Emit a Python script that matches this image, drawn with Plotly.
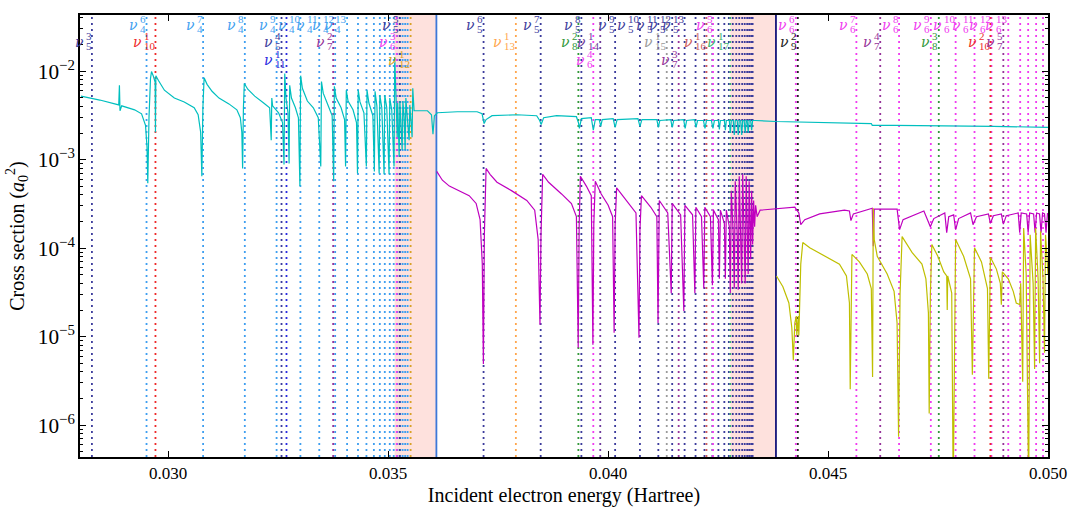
import plotly.graph_objects as go

# ---------------------------------------------------------------------------
# Cross sections (energy in Hartree, cross section in a0^2)
# ---------------------------------------------------------------------------
cyan_points = [
    (0.028023, 5.23e-3), (0.028451, 4.72e-3), (0.028880, 4.16e-3), (0.028896, 6.92e-3),
    (0.028909, 3.57e-3), (0.028948, 4.06e-3), (0.029241, 3.66e-3), (0.029399, 3.30e-3),
    (0.029489, 2.44e-3), (0.029523, 1.39e-3), (0.029541, 5.43e-4), (0.029568, 2.98e-3),
    (0.029602, 8.26e-3), (0.029625, 9.90e-3), (0.029670, 8.70e-3), (0.029708, 7.46e-3),
    (0.029715, 2.04e-3), (0.029724, 8.90e-3), (0.029783, 7.85e-3), (0.029918, 6.10e-3),
    (0.030144, 4.97e-3), (0.030369, 4.49e-3), (0.030595, 3.86e-3), (0.030685, 3.22e-3),
    (0.030742, 2.04e-3), (0.030769, 6.49e-4), (0.030793, 3.86e-3), (0.030821, 8.45e-3),
    (0.030888, 7.10e-3), (0.031001, 5.93e-3), (0.031159, 4.97e-3), (0.031385, 4.27e-3),
    (0.031565, 3.66e-3), (0.031644, 2.98e-3), (0.031678, 2.04e-3), (0.031696, 7.96e-4),
    (0.031714, 3.86e-3), (0.031734, 7.27e-3), (0.031813, 6.25e-3), (0.031971, 5.23e-3),
    (0.032174, 4.37e-3), (0.032310, 3.86e-3), (0.032346, 1.66e-3), (0.032359, 4.97e-3),
    (0.032377, 4.06e-3), (0.032513, 3.39e-3), (0.032603, 2.63e-3), (0.032637, 8.80e-4),
    (0.032653, 9.40e-3), (0.032682, 4.97e-3), (0.032727, 3.39e-3), (0.032752, 9.03e-4),
    (0.032766, 6.92e-3), (0.032806, 4.97e-3), (0.032896, 3.86e-3), (0.032964, 2.98e-3),
    (0.032998, 5.03e-4), (0.033014, 8.90e-3), (0.033054, 6.41e-3), (0.033167, 4.60e-3),
    (0.033303, 3.86e-3), (0.033415, 2.98e-3), (0.033472, 8.37e-4), (0.033488, 7.65e-3),
    (0.033528, 5.64e-3), (0.033641, 4.06e-3), (0.033731, 3.14e-3), (0.033765, 5.71e-4),
    (0.033781, 6.74e-3), (0.033822, 4.97e-3), (0.033934, 3.86e-3), (0.034013, 2.84e-3),
    (0.034036, 8.37e-4), (0.034052, 6.10e-3), (0.034092, 4.60e-3), (0.034205, 3.66e-3),
    (0.034284, 2.63e-3), (0.034307, 7.00e-4), (0.034323, 6.10e-3), (0.034363, 4.49e-3),
    (0.034453, 3.39e-3), (0.034508, 8.37e-4), (0.034523, 6.10e-3), (0.034566, 4.37e-3),
    (0.034656, 3.14e-3), (0.034690, 7.37e-4), (0.034706, 5.93e-3), (0.034747, 4.06e-3),
    (0.034799, 7.00e-4), (0.034814, 5.37e-3), (0.034859, 3.86e-3), (0.034911, 6.83e-4),
    (0.034927, 5.37e-3), (0.034972, 3.86e-3), (0.035024, 6.83e-4), (0.035040, 4.97e-3),
    (0.035085, 3.66e-3), (0.035137, 8.37e-4), (0.035153, 1.45e-2), (0.035187, 4.37e-3),
    (0.035209, 1.79e-3), (0.035220, 4.37e-3), (0.035254, 1.08e-3), (0.035270, 4.60e-3),
    (0.035300, 2.63e-3), (0.035322, 1.29e-3), (0.035338, 4.60e-3), (0.035367, 2.98e-3),
    (0.035390, 1.29e-3), (0.035406, 4.97e-3), (0.035435, 3.14e-3), (0.035480, 1.66e-3),
    (0.035496, 4.16e-3), (0.035525, 2.63e-3), (0.035548, 1.79e-3), (0.035563, 6.41e-3),
    (0.035593, 3.57e-3), (0.035672, 3.57e-3), (0.035897, 3.57e-3), (0.035988, 3.22e-3),
    (0.036022, 1.94e-3), (0.036055, 3.14e-3), (0.036123, 3.39e-3), (0.036574, 3.48e-3),
    (0.037026, 3.48e-3), (0.037138, 3.30e-3), (0.037184, 2.56e-3), (0.037229, 2.84e-3),
    (0.037364, 3.14e-3), (0.037928, 3.22e-3), (0.038379, 3.14e-3), (0.038447, 2.77e-3),
    (0.038481, 2.50e-3), (0.038537, 2.98e-3), (0.038831, 3.14e-3), (0.039282, 3.06e-3),
    (0.039327, 2.63e-3), (0.039350, 2.26e-3), (0.039395, 2.91e-3), (0.039620, 2.98e-3),
    (0.039666, 2.15e-3), (0.039711, 2.84e-3), (0.039801, 2.84e-3), (0.039835, 2.38e-3),
    (0.039869, 2.84e-3), (0.040117, 2.91e-3), (0.040162, 2.32e-3), (0.040207, 2.84e-3),
    (0.040681, 2.91e-3), (0.040726, 2.38e-3), (0.040771, 2.84e-3), (0.041110, 2.84e-3),
    (0.041144, 2.32e-3), (0.041177, 2.77e-3), (0.041426, 2.84e-3), (0.041459, 2.32e-3),
    (0.041493, 2.77e-3), (0.041719, 2.84e-3), (0.041753, 2.26e-3), (0.041787, 2.77e-3),
    (0.041967, 2.84e-3), (0.042001, 2.32e-3), (0.042035, 2.77e-3), (0.042170, 2.77e-3),
    (0.042204, 2.26e-3), (0.042238, 2.77e-3), (0.042351, 2.77e-3), (0.042385, 2.26e-3),
    (0.042418, 2.77e-3), (0.042509, 2.77e-3), (0.042531, 2.20e-3), (0.042554, 2.77e-3),
    (0.042644, 2.77e-3), (0.042667, 2.15e-3), (0.042689, 2.77e-3), (0.042757, 2.77e-3),
    (0.042779, 2.00e-3), (0.042802, 2.77e-3), (0.042847, 2.77e-3), (0.042870, 1.90e-3),
    (0.042892, 2.77e-3), (0.042937, 2.77e-3), (0.042960, 1.90e-3), (0.042983, 2.77e-3),
    (0.043016, 2.77e-3), (0.043039, 1.90e-3), (0.043061, 2.77e-3), (0.043095, 2.77e-3),
    (0.043118, 2.00e-3), (0.043141, 2.77e-3), (0.043163, 2.77e-3), (0.043186, 2.00e-3),
    (0.043208, 2.77e-3), (0.043242, 2.77e-3), (0.043265, 2.15e-3), (0.043287, 2.77e-3),
    (0.043344, 2.77e-3), (0.043817, 2.70e-3), (0.044697, 2.63e-3), (0.045984, 2.56e-3),
    (0.046006, 2.44e-3), (0.046502, 2.44e-3), (0.048759, 2.38e-3), (0.050000, 2.32e-3),
]

magenta_points = [
    (0.036107, 7.37e-4), (0.036236, 5.86e-4), (0.036394, 5.03e-4), (0.036619, 4.44e-4),
    (0.036845, 3.92e-4), (0.037003, 3.20e-4), (0.037093, 2.10e-4), (0.037143, 6.6e-5),
    (0.037168, 4.9e-6), (0.037190, 1.42e-4), (0.037229, 7.96e-4), (0.037319, 6.83e-4),
    (0.037477, 5.56e-4), (0.037815, 4.44e-4), (0.038154, 3.46e-4), (0.038334, 2.69e-4),
    (0.038413, 1.25e-4), (0.038454, 1.36e-5), (0.038477, 1.42e-4), (0.038515, 6.83e-4),
    (0.038650, 5.56e-4), (0.038944, 4.10e-4), (0.039169, 3.20e-4), (0.039282, 2.27e-4),
    (0.039323, 7.5e-6), (0.039345, 1.84e-4), (0.039372, 6.49e-4), (0.039508, 5.03e-4),
    (0.039620, 3.92e-4), (0.039657, 8.1e-6), (0.039677, 1.84e-4), (0.039711, 5.71e-4),
    (0.039846, 4.10e-4), (0.040004, 3.05e-4), (0.040105, 2.27e-4), (0.040139, 1.11e-5),
    (0.040162, 1.84e-4), (0.040196, 4.80e-4), (0.040410, 3.46e-4), (0.040636, 2.50e-4),
    (0.040704, 9.7e-6), (0.040726, 1.62e-4), (0.040760, 3.92e-4), (0.040974, 2.90e-4),
    (0.041110, 2.27e-4), (0.041137, 1.43e-5), (0.041166, 3.46e-4), (0.041358, 2.50e-4),
    (0.041437, 3.1e-5), (0.041459, 3.20e-4), (0.041651, 2.38e-4), (0.041723, 1.95e-5),
    (0.041748, 3.05e-4), (0.041922, 2.38e-4), (0.041974, 3.1e-5), (0.041997, 2.90e-4),
    (0.042125, 2.27e-4), (0.042177, 3.5e-5), (0.042200, 2.90e-4), (0.042328, 2.27e-4),
    (0.042373, 3.8e-5), (0.042396, 2.69e-4), (0.042509, 2.10e-4), (0.042531, 4.5e-5),
    (0.042554, 2.69e-4), (0.042644, 1.91e-4), (0.042667, 4.5e-5), (0.042689, 2.69e-4),
    (0.042757, 1.75e-4), (0.042779, 3.1e-5), (0.042802, 4.44e-4), (0.042847, 1.42e-4),
    (0.042870, 3.5e-5), (0.042892, 5.71e-4), (0.042937, 1.42e-4), (0.042960, 3.4e-5),
    (0.042983, 6.49e-4), (0.043016, 1.25e-4), (0.043039, 4.0e-5), (0.043061, 6.83e-4),
    (0.043095, 1.10e-4), (0.043118, 4.0e-5), (0.043141, 6.49e-4), (0.043163, 9.6e-5),
    (0.043186, 5.1e-5), (0.043208, 5.71e-4), (0.043242, 7.5e-5), (0.043265, 4.44e-4),
    (0.043287, 1.10e-4), (0.043310, 3.46e-4), (0.043332, 1.75e-4), (0.043355, 3.05e-4),
    (0.043389, 2.27e-4), (0.043457, 2.69e-4), (0.043817, 2.76e-4), (0.044246, 2.90e-4),
    (0.044337, 2.50e-4), (0.044381, 1.84e-4), (0.044472, 2.10e-4), (0.044810, 2.44e-4),
    (0.045374, 2.69e-4), (0.045487, 2.63e-4), (0.045521, 2.05e-4), (0.045577, 2.44e-4),
    (0.046006, 2.83e-4), (0.046029, 1.05e-4), (0.046051, 2.76e-4), (0.046571, 2.76e-4),
    (0.046627, 1.62e-4), (0.046706, 2.10e-4), (0.047179, 2.63e-4), (0.047326, 1.75e-4),
    (0.047405, 2.16e-4), (0.047654, 2.50e-4), (0.047698, 1.50e-4), (0.047744, 2.27e-4),
    (0.047856, 2.38e-4), (0.047901, 1.62e-4), (0.047969, 2.16e-4), (0.048240, 2.50e-4),
    (0.048296, 1.84e-4), (0.048375, 2.27e-4), (0.048646, 2.44e-4), (0.048691, 1.91e-4),
    (0.048759, 2.33e-4), (0.048939, 2.44e-4), (0.048985, 1.87e-4), (0.049052, 2.33e-4),
    (0.049323, 2.50e-4), (0.049357, 1.50e-4), (0.049391, 2.50e-4), (0.049515, 2.44e-4),
    (0.049549, 1.50e-4), (0.049583, 2.50e-4), (0.049673, 2.44e-4), (0.049707, 1.50e-4),
    (0.049741, 2.50e-4), (0.049808, 2.44e-4), (0.049842, 1.50e-4), (0.049876, 2.50e-4),
    (0.049921, 2.44e-4), (0.049955, 1.50e-4), (0.049989, 2.50e-4),
]

yellow_points = [
    (0.043829, 4.85e-5), (0.043975, 3.66e-5), (0.044111, 2.4e-5), (0.044178, 1.26e-5),
    (0.044212, 5.4e-6), (0.044246, 1.43e-5), (0.044280, 1.71e-5), (0.044291, 1.03e-5),
    (0.044325, 1.71e-5), (0.044337, 1.03e-5), (0.044381, 6.6e-5), (0.044427, 1.16e-4),
    (0.044585, 1.01e-4), (0.044923, 8.1e-5), (0.045261, 6.6e-5), (0.045419, 4.85e-5),
    (0.045487, 2.4e-5), (0.045505, 2.55e-6), (0.045528, 3.1e-5), (0.045544, 8.5e-5),
    (0.045713, 7.0e-5), (0.045893, 5.1e-5), (0.045984, 3.5e-5), (0.046013, 3.5e-6),
    (0.046029, 2.83e-4), (0.046051, 1.25e-4), (0.046119, 8.1e-5), (0.046345, 5.1e-5),
    (0.046502, 3.25e-5), (0.046570, 1.43e-5), (0.046604, 7.4e-7), (0.046638, 3.1e-5),
    (0.046684, 1.35e-4), (0.046909, 8.95e-5), (0.047135, 6.6e-5), (0.047225, 4.5e-5),
    (0.047282, 1.85e-5), (0.047300, 1.35e-6), (0.047327, 3.1e-5), (0.047360, 1.10e-4),
    (0.047496, 8.1e-5), (0.047631, 5.4e-5), (0.047698, 4.85e-5), (0.047710, 2.0e-5),
    (0.047721, 4.85e-5), (0.047812, 3.1e-5), (0.047846, 1.9e-7), (0.047880, 3.1e-5),
    (0.047901, 1.25e-4), (0.048082, 8.1e-5), (0.048240, 4.5e-5), (0.048281, 3.7e-6),
    (0.048308, 4.0e-5), (0.048330, 1.01e-4), (0.048488, 7.0e-5), (0.048624, 3.5e-5),
    (0.048653, 3.35e-6), (0.048676, 4.0e-5), (0.048691, 7.9e-5), (0.048827, 5.8e-5),
    (0.048917, 4.0e-5), (0.048939, 2.3e-5), (0.048962, 5.4e-5), (0.049097, 4.5e-5),
    (0.049210, 3.25e-5), (0.049278, 2.4e-5), (0.049357, 2.3e-5), (0.049379, 4.0e-5),
    (0.049425, 3.1e-6), (0.049447, 1.69e-4), (0.049504, 5.1e-5), (0.049560, 1.9e-7),
    (0.049594, 1.42e-4), (0.049662, 4.0e-5), (0.049696, 4.3e-6), (0.049719, 1.69e-4),
    (0.049775, 4.5e-5), (0.049809, 5.0e-6), (0.049831, 1.55e-4), (0.049887, 4.5e-5),
    (0.049921, 6.6e-6), (0.049944, 1.42e-4), (0.050000, 5.1e-5),
]

# Ionisation thresholds and the resonance windows just below them
thresholds = [0.036100, 0.043817]
windows = [(0.035150, 0.036100), (0.042780, 0.043817)]

# Resonance positions for each channel nu_j, starting at the given n
nu_first = {4: 6, 5: 3, 6: 3, 7: 2, 8: 2, 9: 2, 10: 1, 11: 1, 12: 1, 13: 1,
            14: 1, 15: 1, 16: 1, 17: 1}
nu4 = [0.029512, 0.030798, 0.031746, 0.032468, 0.033009, 0.033438, 0.033799,
       0.034070, 0.034318, 0.034510, 0.034679, 0.034814, 0.034927, 0.035040,
       0.035130, 0.035209, 0.035277, 0.035333, 0.035390, 0.035446]
nu5 = [0.028271, 0.032580, 0.035266, 0.037172, 0.038470, 0.039395, 0.040162,
       0.040726, 0.041144, 0.041459, 0.041741, 0.041990, 0.042193, 0.042373,
       0.042509, 0.042644, 0.042746, 0.042836, 0.042915, 0.042983, 0.043050,
       0.043107, 0.043163, 0.043208, 0.043253, 0.043287]
nu6 = [0.035198, 0.039666, 0.042385, 0.044269, 0.045645, 0.046615, 0.047337,
       0.047901, 0.048330, 0.048714, 0.049097, 0.049368, 0.049549, 0.049730,
       0.049887]
nu7 = [0.033754, 0.041606, 0.046187, 0.048985]
nu8 = [0.039327, 0.047518]
nu9 = [0.044314]
nu10 = [0.029715, 0.048691]
nu11 = [0.032693]
nu12 = [0.035514]
nu13 = [0.037906]
nu14 = [0.039824]
nu15 = [0.041335]
nu16 = [0.042238]
nu17 = [0.042779]

# Labelled resonances (channel, n)
labels_upper = [(4, n) for n in range(6, 14)] + [(5, n) for n in range(5, 14)] + \
               [(6, n) for n in range(5, 14)]
labels_middle = [(5, 3), (10, 1), (5, 4), (7, 2), (6, 3), (13, 1), (8, 2), (14, 1),
                 (15, 1), (16, 1), (17, 1), (9, 2), (7, 4), (8, 3), (10, 2), (7, 5)]
labels_lower = [(11, 1), (12, 1), (6, 4), (7, 3)]

# ---------------------------------------------------------------------------
levels = {4: nu4, 5: nu5, 6: nu6, 7: nu7, 8: nu8, 9: nu9, 10: nu10, 11: nu11,
          12: nu12, 13: nu13, 14: nu14, 15: nu15, 16: nu16, 17: nu17}
colors = {4: '#3f9ff0', 5: '#3c3c9c', 6: '#f03cf0', 7: '#963399', 8: '#33993a',
          9: '#222222', 10: '#ee2b2b', 11: '#2a2ae0', 12: '#d9a227', 13: '#ffa64d',
          14: '#6e3c9c', 15: '#9a9a9a', 16: '#cd5c5c', 17: '#3cb371'}

SERIF = 'Liberation Serif'
GREEK = 'DejaVu Serif'
fig = go.Figure()

for lo, hi in windows:
    fig.add_vrect(x0=lo, x1=hi, fillcolor='rgba(250,128,114,0.24)', line_width=0,
                  layer='below')

for ch, energies in levels.items():
    for e in energies:
        fig.add_shape(type='line', xref='x', yref='paper', x0=e, x1=e, y0=0, y1=1,
                      line=dict(color=colors[ch], width=1.8, dash='2px,4px'),
                      layer='below')

for e, col in zip(thresholds, ['#3c78d8', '#14147a']):
    fig.add_shape(type='line', xref='x', yref='paper', x0=e, x1=e, y0=0, y1=1,
                  line=dict(color=col, width=1.8), layer='below')

for pts, col in [(cyan_points, '#00bfbf'), (magenta_points, '#bf00bf'),
                 (yellow_points, '#bfbf00')]:
    fig.add_trace(go.Scatter(x=[p[0] for p in pts], y=[p[1] for p in pts],
                             mode='lines', line=dict(color=col, width=1.2),
                             hoverinfo='skip'))

row_y = {'upper': 0.978, 'middle': 0.938, 'lower': 0.898}


def add_label(ch, n, row):
    e = levels[ch][n - nu_first[ch]]
    col = colors[ch]
    w = 5.4 * max(len(str(ch)), len(str(n)))
    off = -(2 + w)
    y = row_y[row]
    common = dict(x=e, y=y, xref='x', yref='paper', showarrow=False,
                  yanchor='middle', borderpad=0)
    fig.add_annotation(text='<i>ν</i>', xanchor='right', xshift=off,
                       font=dict(family=GREEK, size=14, color=col), **common)
    fig.add_annotation(text=str(ch), xanchor='left', xshift=off, yshift=-4,
                       font=dict(family=SERIF, size=11, color=col), **common)
    fig.add_annotation(text=str(n), xanchor='left', xshift=off, yshift=6,
                       font=dict(family=SERIF, size=11, color=col), **common)


for ch, n in labels_upper:
    add_label(ch, n, 'upper')
for ch, n in labels_middle:
    add_label(ch, n, 'middle')
for ch, n in labels_lower:
    add_label(ch, n, 'lower')

fig.update_layout(
    width=1079, height=515,
    margin=dict(l=80, r=24, t=15, b=48),
    paper_bgcolor='white', plot_bgcolor='white',
    showlegend=False,
    font=dict(family=SERIF, size=17, color='black'),
)
fig.update_xaxes(
    range=[0.028, 0.050], tick0=0.030, dtick=0.005, tickformat='.3f',
    ticks='inside', ticklen=6, tickwidth=1, tickcolor='black',
    mirror='ticks', showline=True, linewidth=1.5, linecolor='black',
    showgrid=False, zeroline=False,
    title=dict(text='Incident electron energy (Hartree)', standoff=6),
)
fig.update_yaxes(
    type='log', range=[-6.36, -1.365], dtick=1, exponentformat='power',
    ticks='inside', ticklen=6, tickwidth=1, tickcolor='black',
    mirror='ticks', showline=True, linewidth=1.5, linecolor='black',
    showgrid=False, zeroline=False,
    minor=dict(ticks='inside', ticklen=3, dtick='D1', tickcolor='black', showgrid=False),
    title=dict(text='Cross section (<i>a</i><sub>0</sub><sup>2</sup>)', standoff=8),
)

fig.write_html('out.html')
